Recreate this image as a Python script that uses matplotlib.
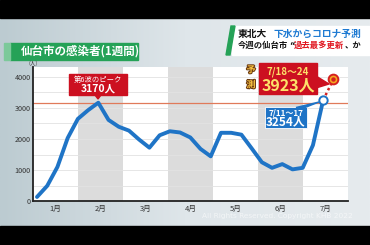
import numpy as np
import matplotlib
matplotlib.use('Agg')
import matplotlib.pyplot as plt
from matplotlib.patches import Rectangle, Polygon
import matplotlib.patheffects as pe

plt.rcParams['font.family'] = ['Noto Sans CJK JP', 'DejaVu Sans']

# 週ごとの感染者数 (1月第1週 ～ 7/11-17)
cases = [130, 490, 1100, 2030, 2650, 2930, 3170, 2615, 2395, 2270, 1980, 1720,
         2120, 2250, 2210, 2050, 1680, 1440, 2200, 2200, 2140, 1700, 1250, 1070,
         1190, 1020, 1070, 1800, 3254]
forecast = 3923          # 7/18-24 予測
peak6 = 3170             # 第6波のピーク
months = ['1月', '2月', '3月', '4月', '5月', '6月', '7月']
yticks = [0, 1000, 2000, 3000, 4000]

weeks = np.arange(len(cases))
W, H = 370, 245

fig = plt.figure(figsize=(W / 100, H / 100), dpi=100)

# 背景
bg = fig.add_axes([0, 0, 1, 1], zorder=0)
bg.set_xlim(0, W)
bg.set_ylim(H, 0)
bg.axis('off')
gx = np.linspace(0, 1, 200)
grad = np.tile(gx, (60, 1))
bg.imshow(grad, extent=[0, W, H, 0], aspect='auto', cmap=matplotlib.colors.LinearSegmentedColormap.from_list('g', ['#bccbd1', '#dfe6ea', '#e6ebee']))
bg.add_patch(Rectangle((0, 0), W, 18, color='black'))
bg.add_patch(Rectangle((0, 226), W, 19, color='black'))

# グラフ
ax = fig.add_axes([33 / W, (H - 201) / H, 315 / W, 134 / H], zorder=2)
wk = 10.22            # 1週あたりの幅(px)
mw = 45 / wk          # 1か月あたりの幅(週)
x0 = -4 / wk
ax.set_xlim(x0, x0 + 7 * mw)
ax.set_ylim(0, 134 / 31 * 1000)
for m in range(7):
    ax.axvspan(x0 + m * mw, x0 + (m + 1) * mw, color='#dcdcdc' if m % 2 else 'white', zorder=0, lw=0)
for v in range(500, 4500, 500):
    ax.axhline(v, color='#e2e2e2', lw=0.6, zorder=0.5)
ax.axhline(peak6, color='#e07a5a', lw=0.9, zorder=1)

ax.plot(weeks, cases, color='#1f74c6', lw=2.8, solid_joinstyle='round', solid_capstyle='round', zorder=3)
ax.plot([weeks[-1], weeks[-1] + 1], [cases[-1], forecast], color='#d42020', lw=1.8, ls=(0, (1, 1.2)), zorder=3)
ax.plot(weeks[-1], cases[-1], 'o', ms=6, mfc='white', mec='#1f74c6', mew=1.4, zorder=4)
ax.plot(weeks[-1] + 1, forecast, 'o', ms=7, mfc='#f5a81f', mec='#d42020', mew=1.4, zorder=4)
ax.plot(weeks[-1] + 1, forecast, 'o', ms=2.2, mfc='#d42020', mec='#d42020', zorder=5)

ax.set_xticks([x0 + (m + 0.5) * mw for m in range(7)])
ax.set_xticklabels(months, fontsize=5.5, color='#333333')
ax.set_yticks(yticks)
ax.set_yticklabels([str(v) for v in yticks], fontsize=5.2, color='#333333')
ax.tick_params(length=0, pad=1.5)
ax.tick_params(axis='x', pad=3)
for s in ['top', 'right']:
    ax.spines[s].set_visible(False)
for s in ['left', 'bottom']:
    ax.spines[s].set_linewidth(1.3)
    ax.spines[s].set_color('#222222')
ax.set_facecolor('none')

# 上に重ねる注記
ov = fig.add_axes([0, 0, 1, 1], zorder=5)
ov.set_xlim(0, W)
ov.set_ylim(H, 0)
ov.axis('off')
ov.patch.set_alpha(0)

ov.text(33, 63, '(人)', fontsize=4, color='#333333', ha='center', va='center')

# タイトル
ov.add_patch(Rectangle((10, 43), 128, 17, color='#25a257'))
ov.add_patch(Rectangle((4, 43), 6, 17, color='#7cc99a'))
ov.text(21, 51.5, '仙台市の感染者(1週間)', fontsize=8.3, color='white', fontweight='bold', va='center')

# 右上のテロップ
ov.add_patch(Rectangle((232, 26), 138, 29, color='white'))
ov.add_patch(Polygon([(231, 26), (235, 26), (230, 55), (226, 55)], color='#25a257'))
ov.text(238, 33.5, '東北大', fontsize=7, color='#111111', fontweight='bold', va='center')
ov.text(274, 33.5, '下水からコロナ予測', fontsize=7, color='#1e7ad2', fontweight='bold', va='center')
ov.text(238, 45.5, '今週の仙台市', fontsize=6, color='#111111', fontweight='bold', va='center')
ov.text(289, 45.5, '“', fontsize=6, color='#111111', fontweight='bold', va='center', family='DejaVu Sans')
ov.text(294, 45.5, '過去最多更新', fontsize=6, color='#e0141e', fontweight='bold', va='center')
ov.text(345, 45.5, '、か', fontsize=6, color='#111111', fontweight='bold', va='center')

# 第6波のピーク
ov.add_patch(Rectangle((69, 74), 58, 21, color='#cc1020'))
ov.add_patch(Polygon([(95, 95), (101, 95), (98, 99)], color='#cc1020'))
ov.text(98, 80, '第6波のピーク', fontsize=5.3, color='white', ha='center', va='center')
ov.text(98, 89, f'{peak6}人', fontsize=7.5, color='white', fontweight='bold', ha='center', va='center')

# 予測
yel = '#fde16a'
stroke = [pe.withStroke(linewidth=1.5, foreground='#6b3a10')]
ov.text(251, 70, '予', fontsize=6.5, color='#f7c242', fontweight='bold', ha='center', va='center', path_effects=stroke)
ov.text(251, 85, '測', fontsize=6.5, color='#f7c242', fontweight='bold', ha='center', va='center', path_effects=stroke)
ov.add_patch(Rectangle((259, 63), 58, 31, color='#cc1020'))
ov.add_patch(Polygon([(316, 76), (316, 88), (329, 84)], color='#cc1020'))
ov.text(288, 71.5, '7/18～24', fontsize=7, color=yel, fontweight='bold', ha='center', va='center')
ov.text(288, 85.5, f'{forecast}人', fontsize=11.5, color=yel, fontweight='bold', ha='center', va='center')

# 直近の週
ov.add_patch(Rectangle((265, 107), 42, 21, facecolor='#1f74c6', edgecolor='white', lw=0.6))
ov.add_patch(Polygon([(296, 107.5), (305, 107.5), (319, 102)], color='#1f74c6'))
ov.text(286, 112.5, '7/11～17', fontsize=5.8, color='white', fontweight='bold', ha='center', va='center')
ov.text(286, 122, f'{cases[-1]}人', fontsize=8.5, color='white', fontweight='bold', ha='center', va='center')

ov.text(277, 216, 'All Rights Reserved. Copyright KHB 2022', fontsize=5.3, color='white', alpha=0.6,
        ha='center', va='center', family='DejaVu Sans')

fig.savefig('out.png', dpi=100)
